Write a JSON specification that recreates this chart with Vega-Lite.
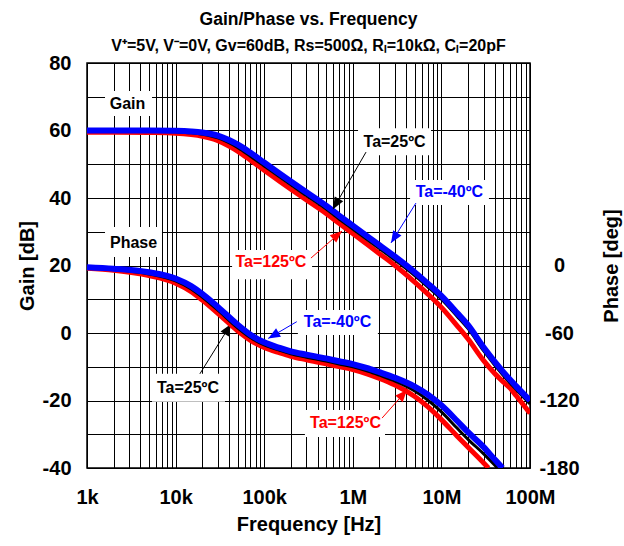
{
  "$schema": "https://vega.github.io/schema/vega-lite/v6.json",
  "width": 443,
  "height": 405,
  "autosize": {"type": "none"},
  "padding": {"left": 87, "top": 63, "right": 94, "bottom": 78},
  "background": "white",
  "title": {
    "text": "Gain/Phase vs. Frequency",
    "subtitle": "V⁺=5V, V⁻=0V, Gv=60dB, Rs=500Ω, Rₗ=10kΩ, Cₗ=20pF",
    "anchor": "middle",
    "frame": "group",
    "font": "Liberation Sans",
    "fontSize": 17.5,
    "fontWeight": "bold",
    "color": "#000",
    "subtitleFont": "Liberation Sans",
    "subtitleFontSize": 16,
    "subtitleFontWeight": "bold",
    "subtitleColor": "#000",
    "subtitlePadding": 10,
    "offset": -1
  },
  "datasets": {
    "gain": [
      {"f": 1000, "temp": "25", "g": 59.8}, {"f": 2000, "temp": "25", "g": 59.8}, {"f": 5000, "temp": "25", "g": 59.8}, {"f": 10000, "temp": "25", "g": 59.6}, {"f": 15000, "temp": "25", "g": 59.3}, {"f": 20000, "temp": "25", "g": 58.9}, {"f": 30000, "temp": "25", "g": 57.8}, {"f": 40000, "temp": "25", "g": 56.4}, {"f": 50000, "temp": "25", "g": 55.0}, {"f": 70000, "temp": "25", "g": 52.4}, {"f": 100000, "temp": "25", "g": 49.5}, {"f": 150000, "temp": "25", "g": 46.2}, {"f": 200000, "temp": "25", "g": 43.9}, {"f": 300000, "temp": "25", "g": 40.7}, {"f": 500000, "temp": "25", "g": 36.7}, {"f": 700000, "temp": "25", "g": 33.8}, {"f": 1000000, "temp": "25", "g": 30.8}, {"f": 1500000, "temp": "25", "g": 27.4}, {"f": 2000000, "temp": "25", "g": 25.0}, {"f": 3000000, "temp": "25", "g": 21.6}, {"f": 5000000, "temp": "25", "g": 17.0}, {"f": 7000000, "temp": "25", "g": 13.7}, {"f": 10000000, "temp": "25", "g": 10.0}, {"f": 15000000, "temp": "25", "g": 5.0}, {"f": 20000000, "temp": "25", "g": 1.3}, {"f": 30000000, "temp": "25", "g": -5.3}, {"f": 50000000, "temp": "25", "g": -12.6}, {"f": 70000000, "temp": "25", "g": -16.8}, {"f": 100000000, "temp": "25", "g": -21.0},
      {"f": 1000, "temp": "-40", "g": 60.0}, {"f": 2000, "temp": "-40", "g": 60.0}, {"f": 5000, "temp": "-40", "g": 60.0}, {"f": 10000, "temp": "-40", "g": 59.9}, {"f": 15000, "temp": "-40", "g": 59.7}, {"f": 20000, "temp": "-40", "g": 59.4}, {"f": 30000, "temp": "-40", "g": 58.5}, {"f": 40000, "temp": "-40", "g": 57.2}, {"f": 50000, "temp": "-40", "g": 55.9}, {"f": 70000, "temp": "-40", "g": 53.4}, {"f": 100000, "temp": "-40", "g": 50.5}, {"f": 150000, "temp": "-40", "g": 47.2}, {"f": 200000, "temp": "-40", "g": 44.9}, {"f": 300000, "temp": "-40", "g": 41.7}, {"f": 500000, "temp": "-40", "g": 37.7}, {"f": 700000, "temp": "-40", "g": 34.8}, {"f": 1000000, "temp": "-40", "g": 31.8}, {"f": 1500000, "temp": "-40", "g": 28.4}, {"f": 2000000, "temp": "-40", "g": 26.0}, {"f": 3000000, "temp": "-40", "g": 22.6}, {"f": 5000000, "temp": "-40", "g": 18.0}, {"f": 7000000, "temp": "-40", "g": 14.7}, {"f": 10000000, "temp": "-40", "g": 11.0}, {"f": 15000000, "temp": "-40", "g": 6.0}, {"f": 20000000, "temp": "-40", "g": 2.3}, {"f": 30000000, "temp": "-40", "g": -4.3}, {"f": 50000000, "temp": "-40", "g": -11.6}, {"f": 70000000, "temp": "-40", "g": -15.8}, {"f": 100000000, "temp": "-40", "g": -20.0},
      {"f": 1000, "temp": "125", "g": 59.5}, {"f": 2000, "temp": "125", "g": 59.5}, {"f": 5000, "temp": "125", "g": 59.4}, {"f": 10000, "temp": "125", "g": 59.2}, {"f": 15000, "temp": "125", "g": 58.8}, {"f": 20000, "temp": "125", "g": 58.3}, {"f": 30000, "temp": "125", "g": 57.0}, {"f": 40000, "temp": "125", "g": 55.4}, {"f": 50000, "temp": "125", "g": 53.9}, {"f": 70000, "temp": "125", "g": 51.2}, {"f": 100000, "temp": "125", "g": 48.2}, {"f": 150000, "temp": "125", "g": 44.9}, {"f": 200000, "temp": "125", "g": 42.6}, {"f": 300000, "temp": "125", "g": 39.4}, {"f": 500000, "temp": "125", "g": 35.4}, {"f": 700000, "temp": "125", "g": 32.5}, {"f": 1000000, "temp": "125", "g": 29.5}, {"f": 1500000, "temp": "125", "g": 26.0}, {"f": 2000000, "temp": "125", "g": 23.5}, {"f": 3000000, "temp": "125", "g": 20.0}, {"f": 5000000, "temp": "125", "g": 15.1}, {"f": 7000000, "temp": "125", "g": 11.6}, {"f": 10000000, "temp": "125", "g": 7.6}, {"f": 15000000, "temp": "125", "g": 2.2}, {"f": 20000000, "temp": "125", "g": -1.8}, {"f": 30000000, "temp": "125", "g": -8.2}, {"f": 40000000, "temp": "125", "g": -12.0}, {"f": 50000000, "temp": "125", "g": -14.5}, {"f": 60000000, "temp": "125", "g": -16.4}, {"f": 70000000, "temp": "125", "g": -18.6}, {"f": 100000000, "temp": "125", "g": -23.8}
    ],
    "phase": [
      {"f": 1000, "temp": "25", "p": -2}, {"f": 2000, "temp": "25", "p": -3.5}, {"f": 5000, "temp": "25", "p": -7.5}, {"f": 10000, "temp": "25", "p": -13.6}, {"f": 15000, "temp": "25", "p": -20.8}, {"f": 20000, "temp": "25", "p": -28}, {"f": 30000, "temp": "25", "p": -39.7}, {"f": 50000, "temp": "25", "p": -55.3}, {"f": 70000, "temp": "25", "p": -64}, {"f": 100000, "temp": "25", "p": -70.6}, {"f": 150000, "temp": "25", "p": -75.5}, {"f": 200000, "temp": "25", "p": -78.5}, {"f": 300000, "temp": "25", "p": -81.5}, {"f": 500000, "temp": "25", "p": -85}, {"f": 700000, "temp": "25", "p": -87.5}, {"f": 1000000, "temp": "25", "p": -90}, {"f": 1500000, "temp": "25", "p": -94}, {"f": 2000000, "temp": "25", "p": -97.5}, {"f": 3000000, "temp": "25", "p": -102.8}, {"f": 5000000, "temp": "25", "p": -111.6}, {"f": 7000000, "temp": "25", "p": -119.6}, {"f": 10000000, "temp": "25", "p": -130.1}, {"f": 15000000, "temp": "25", "p": -144.5}, {"f": 20000000, "temp": "25", "p": -154.5}, {"f": 30000000, "temp": "25", "p": -167.5}, {"f": 43000000, "temp": "25", "p": -180},
      {"f": 1000, "temp": "-40", "p": -1.5}, {"f": 2000, "temp": "-40", "p": -2.8}, {"f": 5000, "temp": "-40", "p": -6}, {"f": 10000, "temp": "-40", "p": -11.5}, {"f": 15000, "temp": "-40", "p": -18.3}, {"f": 20000, "temp": "-40", "p": -25.2}, {"f": 30000, "temp": "-40", "p": -36.8}, {"f": 50000, "temp": "-40", "p": -52.5}, {"f": 70000, "temp": "-40", "p": -61.5}, {"f": 100000, "temp": "-40", "p": -68.3}, {"f": 150000, "temp": "-40", "p": -73.3}, {"f": 200000, "temp": "-40", "p": -76.3}, {"f": 300000, "temp": "-40", "p": -79.2}, {"f": 500000, "temp": "-40", "p": -82.6}, {"f": 700000, "temp": "-40", "p": -85.1}, {"f": 1000000, "temp": "-40", "p": -87.6}, {"f": 1500000, "temp": "-40", "p": -91.5}, {"f": 2000000, "temp": "-40", "p": -94.8}, {"f": 3000000, "temp": "-40", "p": -99.8}, {"f": 5000000, "temp": "-40", "p": -107.6}, {"f": 7000000, "temp": "-40", "p": -114.6}, {"f": 10000000, "temp": "-40", "p": -124.3}, {"f": 15000000, "temp": "-40", "p": -138}, {"f": 20000000, "temp": "-40", "p": -148.2}, {"f": 30000000, "temp": "-40", "p": -161.5}, {"f": 40000000, "temp": "-40", "p": -172.5}, {"f": 49000000, "temp": "-40", "p": -180},
      {"f": 1000, "temp": "125", "p": -2.5}, {"f": 2000, "temp": "125", "p": -4.2}, {"f": 5000, "temp": "125", "p": -9}, {"f": 10000, "temp": "125", "p": -15.7}, {"f": 15000, "temp": "125", "p": -23.3}, {"f": 20000, "temp": "125", "p": -30.8}, {"f": 30000, "temp": "125", "p": -42.6}, {"f": 50000, "temp": "125", "p": -58}, {"f": 70000, "temp": "125", "p": -66.5}, {"f": 100000, "temp": "125", "p": -72.9}, {"f": 150000, "temp": "125", "p": -77.7}, {"f": 200000, "temp": "125", "p": -80.7}, {"f": 300000, "temp": "125", "p": -83.8}, {"f": 500000, "temp": "125", "p": -87.4}, {"f": 700000, "temp": "125", "p": -89.9}, {"f": 1000000, "temp": "125", "p": -92.5}, {"f": 1500000, "temp": "125", "p": -96.7}, {"f": 2000000, "temp": "125", "p": -100.3}, {"f": 3000000, "temp": "125", "p": -106.3}, {"f": 5000000, "temp": "125", "p": -116.5}, {"f": 7000000, "temp": "125", "p": -125.5}, {"f": 10000000, "temp": "125", "p": -137}, {"f": 15000000, "temp": "125", "p": -151.5}, {"f": 20000000, "temp": "125", "p": -161.5}, {"f": 30000000, "temp": "125", "p": -175.5}, {"f": 34000000, "temp": "125", "p": -180}
    ],
    "boxes": [
      {"f": 1597, "f2": 5420, "g": 71.7, "g2": 64.3},
      {"f": 1597, "f2": 7015, "g": 31.4, "g2": 22.5},
      {"f": 1146000, "f2": 7640000, "g": 60.7, "g2": 52.7},
      {"f": 4430000, "f2": 34400000, "g": 45.3, "g2": 37.9},
      {"f": 43400, "f2": 347000, "g": 24.6, "g2": 15.9},
      {"f": 240000, "f2": 1920000, "g": 6.8, "g2": -0.6},
      {"f": 5420, "f2": 36100, "g": -12.1, "g2": -20.4},
      {"f": 288000, "f2": 2310000, "g": -22.8, "g2": -30.8}
    ],
    "labels": [
      {"f": 2864, "g": 68.0, "text": "Gain", "temp": "axis"},
      {"f": 3350, "g": 26.8, "text": "Phase", "temp": "axis"},
      {"f": 2960000, "g": 56.7, "text": "Ta=25ºC", "temp": "25"},
      {"f": 12300000, "g": 41.8, "text": "Ta=-40ºC", "temp": "-40"},
      {"f": 119000, "g": 21.0, "text": "Ta=125ºC", "temp": "125"},
      {"f": 672000, "g": 3.3, "text": "Ta=-40ºC", "temp": "-40"},
      {"f": 13800, "g": -16.3, "text": "Ta=25ºC", "temp": "25"},
      {"f": 828000, "g": -26.7, "text": "Ta=125ºC", "temp": "125"}
    ],
    "arrows": [
      {"f": 598000, "g": 36.7, "f2": 1410000, "g2": 53.6, "temp": "25", "angle": 210},
      {"f": 2700000, "g": 26.7, "f2": 5160000, "g2": 38.5, "temp": "-40", "angle": 212},
      {"f": 755000, "g": 30.2, "f2": 337000, "g2": 22.2, "temp": "125", "angle": 49},
      {"f": 111000, "g": -1.6, "f2": 233000, "g2": 3.35, "temp": "-40", "angle": 240},
      {"f": 42200, "g": 2.7, "f2": 18800, "g2": -12.1, "temp": "25", "angle": 32},
      {"f": 4090000, "g": -16.9, "f2": 2140000, "g2": -25.2, "temp": "125", "angle": 42}
    ]
  },
  "encoding": {
    "x": {
      "field": "f",
      "type": "quantitative",
      "scale": {"type": "log", "domain": [1000, 100000000], "nice": false},
      "axis": {
        "title": "Frequency [Hz]",
        "values": [1000, 2000, 3000, 4000, 5000, 6000, 7000, 8000, 9000, 10000, 20000, 30000, 40000, 50000, 60000, 70000, 80000, 90000, 100000, 200000, 300000, 400000, 500000, 600000, 700000, 800000, 900000, 1000000, 2000000, 3000000, 4000000, 5000000, 6000000, 7000000, 8000000, 9000000, 10000000, 20000000, 30000000, 40000000, 50000000, 60000000, 70000000, 80000000, 90000000, 100000000],
        "labelExpr": "datum.value == 1000 ? '1k' : datum.value == 10000 ? '10k' : datum.value == 100000 ? '100k' : datum.value == 1000000 ? '1M' : datum.value == 10000000 ? '10M' : datum.value == 100000000 ? '100M' : ''",
        "grid": true,
        "labelPadding": 19,
        "titlePadding": 7
      }
    }
  },
  "layer": [
    {
      "encoding": {
        "y": {
          "field": "g",
          "type": "quantitative",
          "scale": {"domain": [-40, 80], "nice": false, "zero": false},
          "axis": {
            "title": "Gain [dB]",
            "values": [-40, -30, -20, -10, 0, 10, 20, 30, 40, 50, 60, 70, 80],
            "labelExpr": "datum.value % 20 == 0 ? '' + datum.value : ''",
            "grid": true,
            "labelPadding": 16,
            "titlePadding": 5
          }
        }
      },
      "layer": [
        {
          "data": {"name": "boxes"},
          "mark": {"type": "rect", "fill": "white", "strokeWidth": 0},
          "encoding": {"x2": {"field": "f2"}, "y2": {"field": "g2"}}
        },
        {
          "data": {"name": "gain"},
          "transform": [{"filter": "datum.temp == '125'"}],
          "mark": {"type": "line", "color": "#ff0000", "strokeWidth": 5, "interpolate": "monotone", "clip": true},
          "encoding": {}
        },
        {
          "data": {"name": "gain"},
          "transform": [{"filter": "datum.temp == '25'"}],
          "mark": {"type": "line", "color": "#000000", "strokeWidth": 3, "interpolate": "monotone", "clip": true},
          "encoding": {}
        },
        {
          "data": {"name": "gain"},
          "transform": [{"filter": "datum.temp == '-40'"}],
          "mark": {"type": "line", "color": "#0000ff", "strokeWidth": 6, "interpolate": "monotone", "clip": true},
          "encoding": {}
        },
        {
          "data": {"name": "arrows"},
          "mark": {"type": "rule", "strokeWidth": 1},
          "encoding": {
            "x2": {"field": "f2"},
            "y2": {"field": "g2"},
            "color": {"field": "temp", "type": "nominal", "scale": {"domain": ["-40", "25", "125", "axis"], "range": ["#0000ff", "#000000", "#ff0000", "#000000"]}, "legend": null}
          }
        },
        {
          "data": {"name": "arrows"},
          "mark": {"type": "point", "shape": "M0,0L-0.7,1.7L0.7,1.7Z", "filled": true, "size": 196, "opacity": 1, "strokeWidth": 0},
          "encoding": {
            "angle": {"field": "angle", "type": "quantitative", "scale": null},
            "color": {"field": "temp", "type": "nominal", "scale": {"domain": ["-40", "25", "125", "axis"], "range": ["#0000ff", "#000000", "#ff0000", "#000000"]}, "legend": null}
          }
        },
        {
          "data": {"name": "labels"},
          "mark": {"type": "text", "font": "Liberation Sans", "fontWeight": "bold", "fontSize": 16, "align": "center", "baseline": "middle"},
          "encoding": {
            "text": {"field": "text"},
            "color": {"field": "temp", "type": "nominal", "scale": {"domain": ["-40", "25", "125", "axis"], "range": ["#0000ff", "#000000", "#ff0000", "#000000"]}, "legend": null}
          }
        }
      ]
    },
    {
      "data": {"name": "phase"},
      "encoding": {
        "y": {
          "field": "p",
          "type": "quantitative",
          "scale": {"domain": [-180, 180], "nice": false, "zero": false},
          "axis": {
            "orient": "right",
            "title": "Phase [deg]",
            "values": [-180, -120, -60, 0],
            "labelExpr": "'' + datum.value",
            "grid": false,
            "labelAlign": "center",
            "labelPadding": 29,
            "titleAngle": 270,
            "titleBaseline": "top",
            "titlePadding": 22
          }
        }
      },
      "layer": [
        {
          "transform": [{"filter": "datum.temp == '125'"}],
          "mark": {"type": "line", "color": "#ff0000", "strokeWidth": 5, "interpolate": "monotone", "clip": true},
          "encoding": {}
        },
        {
          "transform": [{"filter": "datum.temp == '25'"}],
          "mark": {"type": "line", "color": "#000000", "strokeWidth": 3, "interpolate": "monotone", "clip": true},
          "encoding": {}
        },
        {
          "transform": [{"filter": "datum.temp == '-40'"}],
          "mark": {"type": "line", "color": "#0000ff", "strokeWidth": 6, "interpolate": "monotone", "clip": true},
          "encoding": {}
        }
      ]
    }
  ],
  "resolve": {"scale": {"y": "independent"}},
  "config": {
    "font": "Liberation Sans",
    "view": {"stroke": "#000000", "strokeWidth": 1.5},
    "axis": {
      "labelFont": "Liberation Sans",
      "labelFontWeight": "bold",
      "labelFontSize": 20,
      "labelColor": "#000000",
      "titleFont": "Liberation Sans",
      "titleFontWeight": "bold",
      "titleFontSize": 20,
      "titleColor": "#000000",
      "ticks": false,
      "domain": false,
      "gridColor": "#000000",
      "gridWidth": 1,
      "gridOpacity": 1,
      "labelOverlap": false,
      "labelBound": false,
      "labelFlush": false
    }
  }
}
